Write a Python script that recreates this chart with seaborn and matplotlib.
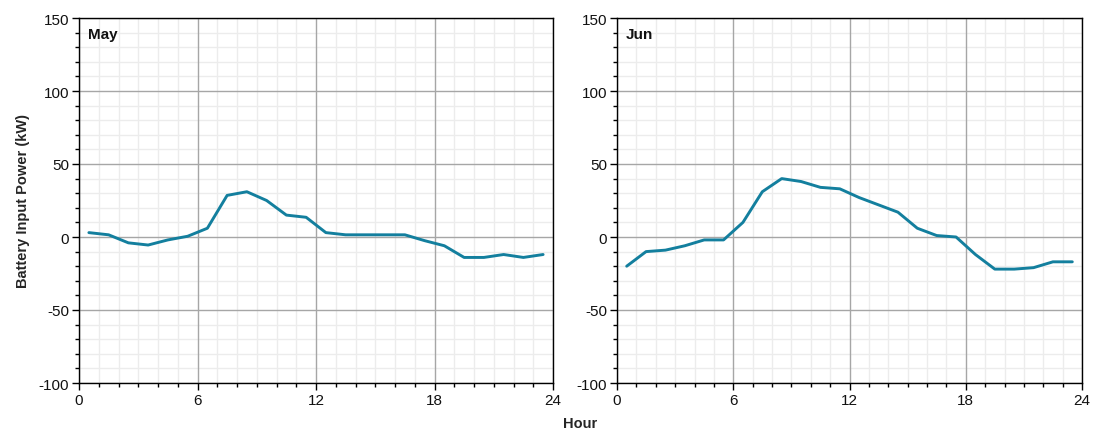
import numpy as np
import pandas as pd
import matplotlib
matplotlib.use("Agg")
import matplotlib.pyplot as plt
from matplotlib.ticker import MultipleLocator
import seaborn as sns

# Hourly average battery input power, sampled at the middle of each hour
hours = [h + 0.5 for h in range(24)]
may_kw = [3, 1.5, -4, -5.5, -2, 0.5, 6, 28.5, 31, 25, 15, 13.5,
          3, 1.5, 1.5, 1.5, 1.5, -2.5, -6, -14, -14, -12, -14, -12]
jun_kw = [-20, -10, -9, -6, -2, -2, 10, 31, 40, 38, 34, 33,
          27, 22, 17, 6, 1, 0, -12, -22, -22, -21, -17, -17]
months = ["May", "Jun"]

df = pd.DataFrame({
    "Hour": hours * 2,
    "Power": may_kw + jun_kw,
    "Month": [months[0]] * 24 + [months[1]] * 24,
})

sns.set_theme(style="white")
plt.rcParams["font.family"] = ["Liberation Sans", "DejaVu Sans"]
plt.rcParams["axes.unicode_minus"] = False

fig = plt.figure(figsize=(11.05, 4.39), dpi=100)
W, H = 1105, 439
boxes = [(79, 553), (617, 1082)]
top_px, bot_px = 19, 384
line_color = "#137f9e"

for (x0, x1), month in zip(boxes, months):
    ax = fig.add_axes([x0 / W, 1 - bot_px / H, (x1 - x0) / W, (bot_px - top_px) / H])
    sns.lineplot(data=df[df["Month"] == month], x="Hour", y="Power",
                 color=line_color, linewidth=2.1, ax=ax, zorder=3)
    ax.set_xlim(0, 24)
    ax.set_ylim(-100, 150)
    ax.xaxis.set_major_locator(MultipleLocator(6))
    ax.xaxis.set_minor_locator(MultipleLocator(1))
    ax.yaxis.set_major_locator(MultipleLocator(50))
    ax.yaxis.set_minor_locator(MultipleLocator(10))

    # light minor grid underneath, darker major grid on top of it
    ax.vlines(ax.xaxis.get_minorticklocs(), -100, 150, color="#ececec",
              linewidth=1.0, zorder=0.1)
    ax.hlines(ax.yaxis.get_minorticklocs(), 0, 24, color="#ececec",
              linewidth=1.0, zorder=0.1)
    ax.grid(which="major", color="#a6a6a6", linewidth=1.0)
    ax.set_axisbelow(True)

    for s in ax.spines.values():
        s.set_visible(True)
        s.set_color("black")
        s.set_linewidth(1.0)
    ax.tick_params(which="major", direction="out", length=5, width=1,
                   color="black", labelsize=11, pad=2, labelcolor="#111111",
                   bottom=True, left=True)
    ax.tick_params(which="minor", direction="out", length=3, width=1,
                   color="black", bottom=True, left=True)
    ax.set_xlabel("")
    ax.set_ylabel("")
    ax.text(0.018, 0.975, month, transform=ax.transAxes, ha="left", va="top",
            fontsize=11, fontweight="bold", color="#111111")
    if month == months[0]:
        ax.set_ylabel("Battery Input Power (kW)", fontsize=10.5,
                      fontweight="bold", labelpad=6)

fig.text(580 / W, 1 - 424 / H, "Hour", ha="center", va="center",
         fontsize=10.5, fontweight="bold")

fig.savefig("out.png", dpi=100, facecolor="white")
